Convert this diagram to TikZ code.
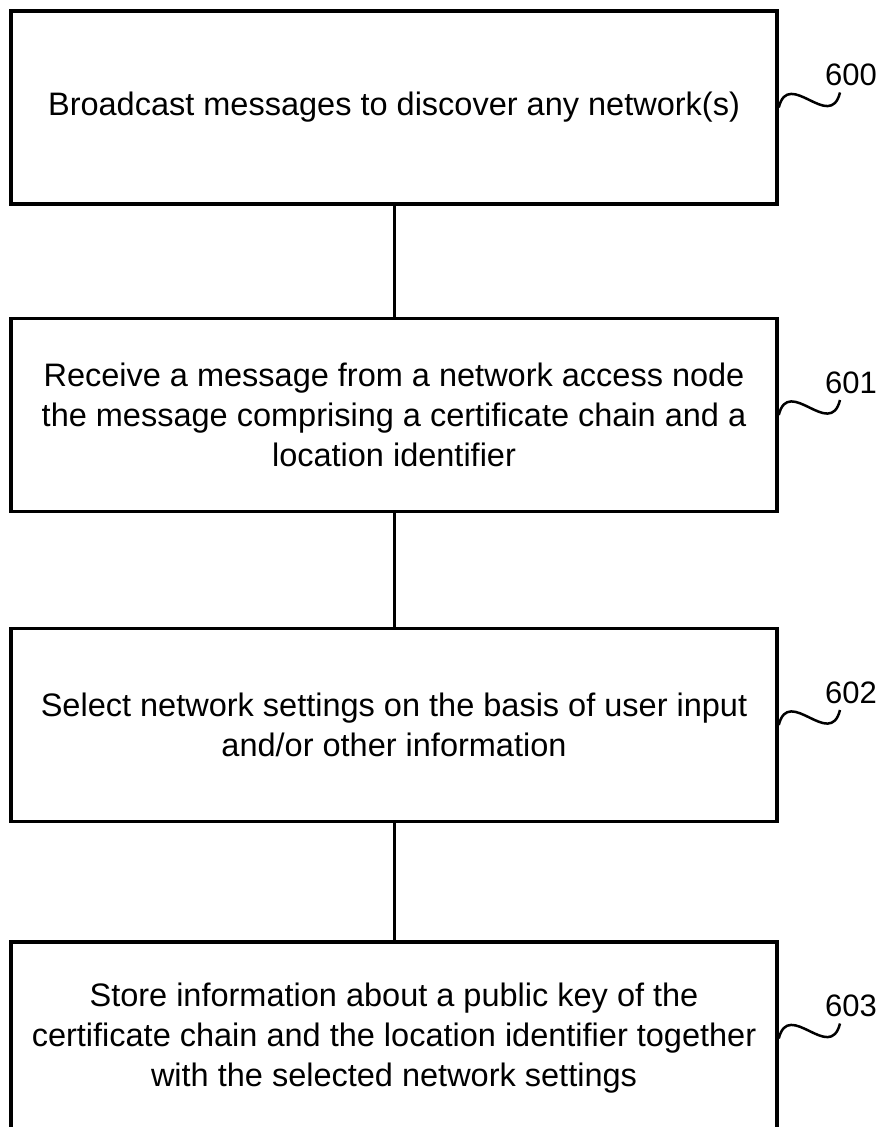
\documentclass[tikz,border=0pt]{standalone}
\usepackage{fontspec}
\setmainfont{Liberation Sans}
\begin{document}
\begin{tikzpicture}[x=1pt,y=-1pt]

      \useasboundingbox (0,0) rectangle (883,1127);

      \begin{scope}[every node/.style={rectangle,draw,line width=3.5pt,
          minimum width=766pt,minimum height=193pt,align=center,
          font=\fontsize{32.5}{40}\selectfont}]
        \node (b1) at (394,107.5) {Broadcast messages to discover any network(s)};
        \node (b2) at (394,415) {Receive a message from a network access node\\
          the message comprising a certificate chain and a\\location identifier};
        \node (b3) at (394,725) {Select network settings on the basis of user input\\
          and/or other information};
        \node (b4) at (394,1038.5) {Store information about a public key of the\\
          certificate chain and the location identifier together\\
          with the selected network settings};
      \end{scope}

      \begin{scope}[every node/.style={anchor=base west,inner sep=0pt,
          font=\fontsize{31}{36}\selectfont}]
        \node (l600) at (825,85.5)   {600};
        \node (l601) at (825,393)    {601};
        \node (l602) at (825,703)    {602};
        \node (l603) at (825,1016.5) {603};
      \end{scope}

      \begin{scope}[line width=3pt]
        \path (b1) edge (b2);
        \path (b2) edge (b3);
        \path (b3) edge (b4);
      \end{scope}

      \begin{scope}[line width=2.5pt]
        \draw (b1.east) .. controls +(10,-40) and +(-10,40) .. ([shift={(15,7)}]l600.base west);
        \draw (b2.east) .. controls +(10,-40) and +(-10,40) .. ([shift={(15,7)}]l601.base west);
        \draw (b3.east) .. controls +(10,-40) and +(-10,40) .. ([shift={(15,7)}]l602.base west);
        \draw (b4.east) .. controls +(10,-40) and +(-10,40) .. ([shift={(15,7)}]l603.base west);
      \end{scope}

    \end{tikzpicture}
\end{document}
